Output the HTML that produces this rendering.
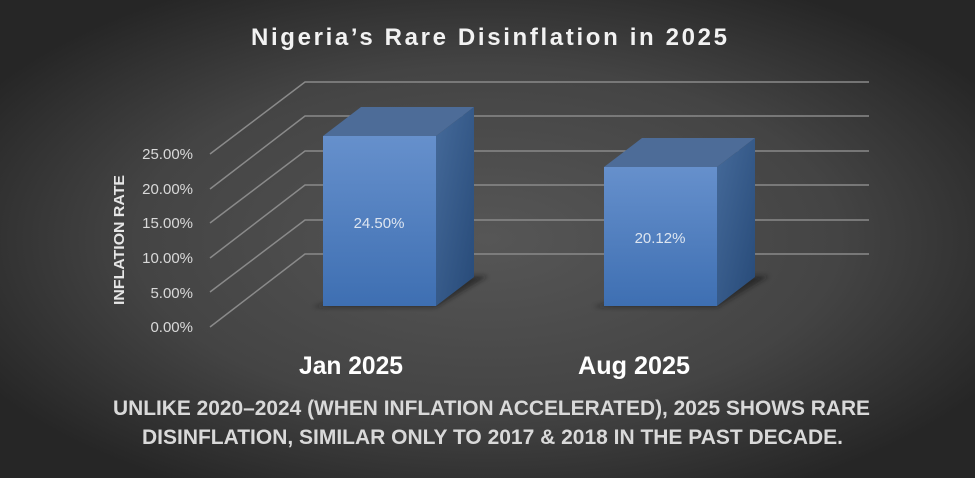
<!DOCTYPE html>
<html><head><meta charset="utf-8"><style>
html,body{margin:0;padding:0;width:975px;height:478px;overflow:hidden;}
svg{display:block;font-family:"Liberation Sans Narrow","Liberation Sans",sans-serif;}
</style></head><body>
<svg width="975" height="478" viewBox="0 0 975 478" xmlns="http://www.w3.org/2000/svg">
<defs>
<radialGradient id="bg" cx="0.5" cy="0.5" r="0.6">
<stop offset="0" stop-color="#565656"/><stop offset="0.6" stop-color="#444"/><stop offset="1" stop-color="#262626"/>
</radialGradient>
<linearGradient id="front" x1="0" y1="0" x2="0" y2="1">
<stop offset="0" stop-color="#6690cc"/><stop offset="1" stop-color="#3e6fb2"/>
</linearGradient>
<linearGradient id="side" x1="0" y1="0" x2="1" y2="1">
<stop offset="0" stop-color="#456a9a"/><stop offset="1" stop-color="#274a78"/>
</linearGradient>
<filter id="sh" x="-20%" y="-50%" width="140%" height="200%"><feGaussianBlur stdDeviation="2.5"/></filter>
</defs>
<rect width="975" height="478" fill="url(#bg)"/>
<g stroke="#8a8a8a" stroke-width="1.5" fill="none">
<polyline points="210,154 305,82 869,82"/>
<polyline points="210,189 305,116 869,116"/>
<polyline points="210,223 305,151 869,151"/>
<polyline points="210,258 305,185 869,185"/>
<polyline points="210,292 305,220 869,220"/>
<polyline points="210,327 305,254 869,254"/>
</g>
<g fill="#d9d9d9" font-family="Liberation Sans,sans-serif" font-size="15" text-anchor="end">
<text x="193" y="159">25.00%</text>
<text x="193" y="194">20.00%</text>
<text x="193" y="228">15.00%</text>
<text x="193" y="263">10.00%</text>
<text x="193" y="298">5.00%</text>
<text x="193" y="332">0.00%</text>
</g>
<text transform="translate(124,240) rotate(-90)" text-anchor="middle" fill="#e6e6e6" font-weight="bold" font-size="15" textLength="130" lengthAdjust="spacingAndGlyphs">INFLATION RATE</text>
<!-- bar 1 -->
<polygon points="312,307 436,307 488,276 440,276" fill="#151515" opacity="0.6" filter="url(#sh)"/>
<polygon points="323,136 361,107 474,107 436,136" fill="#4d6c98"/>
<polygon points="436,136 474,107 474,277 436,306" fill="url(#side)"/>
<rect x="323" y="136" width="113" height="170" fill="url(#front)"/>
<text x="379" y="228" text-anchor="middle" fill="#dde5f0" font-family="Liberation Sans,sans-serif" font-size="15">24.50%</text>
<!-- bar 2 -->
<polygon points="593,307 717,307 769,276 721,276" fill="#151515" opacity="0.6" filter="url(#sh)"/>
<polygon points="604,167 642,138 755,138 717,167" fill="#4d6c98"/>
<polygon points="717,167 755,138 755,277 717,306" fill="url(#side)"/>
<rect x="604" y="167" width="113" height="139" fill="url(#front)"/>
<text x="660" y="243" text-anchor="middle" fill="#dde5f0" font-family="Liberation Sans,sans-serif" font-size="15">20.12%</text>
<text x="251" y="45" fill="#f2f2f2" font-weight="bold" font-size="24" font-family="Liberation Sans,sans-serif" textLength="476" lengthAdjust="spacing">Nigeria’s Rare Disinflation in 2025</text>
<text x="299" y="374" fill="#fff" font-weight="bold" font-size="25" textLength="104" lengthAdjust="spacingAndGlyphs">Jan 2025</text>
<text x="578" y="374" fill="#fff" font-weight="bold" font-size="25" textLength="112" lengthAdjust="spacingAndGlyphs">Aug 2025</text>
<text x="113" y="415" fill="#d9d9d9" font-weight="bold" font-size="21" textLength="757" lengthAdjust="spacingAndGlyphs">UNLIKE 2020–2024 (WHEN INFLATION ACCELERATED), 2025 SHOWS RARE</text>
<text x="142" y="444" fill="#d9d9d9" font-weight="bold" font-size="21" textLength="701" lengthAdjust="spacingAndGlyphs">DISINFLATION, SIMILAR ONLY TO 2017 &amp; 2018 IN THE PAST DECADE.</text>
</svg>
</body></html>
